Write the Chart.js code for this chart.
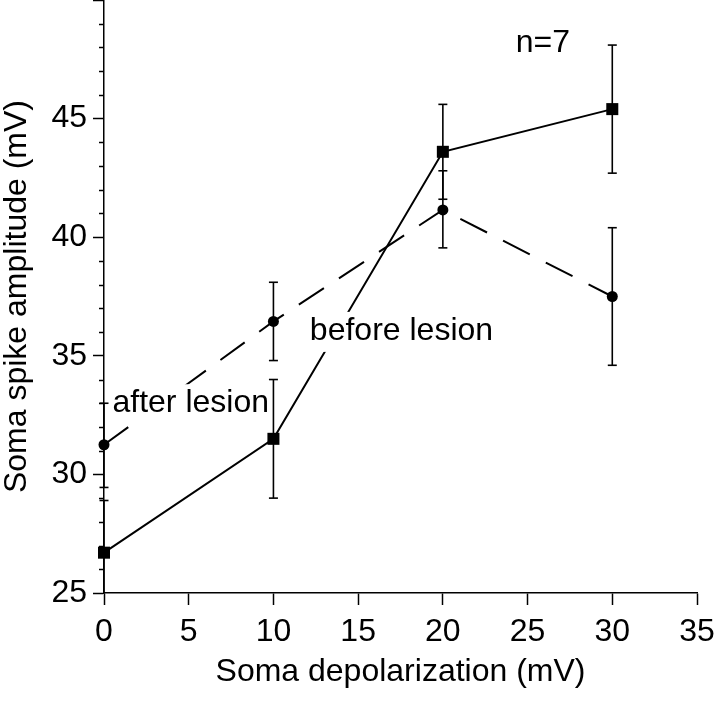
<!DOCTYPE html>
<html>
<head>
<meta charset="utf-8">
<script src="https://cdn.jsdelivr.net/npm/chart.js@4.4.1/dist/chart.umd.min.js"></script>
<style>
  html, body { margin: 0; padding: 0; background: #fff; }
  canvas { display: block; }
</style>
</head>
<body>
<canvas id="ampChart" width="720" height="702"></canvas>
<script>
// Soma spike amplitude vs depolarization, before / after lesion (n=7)
const depolarization = [0, 10, 20, 30];
const beforeLesion = [26.7, 31.5, 43.6, 45.4];
const beforeUpper  = [28.9, 34.0, 45.6, 48.1];
const beforeLower  = [24.5, 29.0, 41.6, 42.7];
const afterLesion  = [31.25, 36.45, 41.15, 37.5];
const afterUpper   = [33.0, 38.1, 42.8, 40.4];
const afterLower   = [29.45, 34.8, 39.55, 34.6];

const xTickValues = [0, 5, 10, 15, 20, 25, 30, 35];
const yTickLabels = [25, 30, 35, 40, 45];

const FONT = '"Liberation Sans", Arial, Helvetica, sans-serif';
const FONT_SIZE = 32;
Chart.defaults.font.family = FONT;
Chart.defaults.color = '#000';

// one small line dataset per error bar, caps drawn as 'line' points
function errorBars(lower, upper) {
    return depolarization.map((x, i) => ({
        type: 'line',
        data: [{ x: x, y: lower[i] }, { x: x, y: upper[i] }],
        borderColor: '#000',
        borderWidth: 1.6,
        pointStyle: 'line',
        pointRadius: 4.5,
        pointBorderWidth: 1.6,
        pointBorderColor: '#000',
        clip: { left: 10, right: 10, top: 10, bottom: 0 }
    }));
}

// text notes inside the plot, placed in data units
const notes = [
    { text: 'n=7', x: 24.3, y: 48.2, box: false },
    { text: 'before lesion', x: 12.15, y: 36.05, box: true },
    { text: 'after lesion', x: 0.5, y: 33.0, box: true }
];

const notesPlugin = {
    id: 'notes',
    afterDatasetsDraw(chart) {
        const { ctx, scales: { x, y } } = chart;
        ctx.save();
        ctx.font = FONT_SIZE + 'px ' + FONT;
        ctx.textAlign = 'left';
        ctx.textBaseline = 'middle';
        notes.forEach(n => {
            const px = x.getPixelForValue(n.x);
            const py = y.getPixelForValue(n.y);
            if (n.box) {
                const w = ctx.measureText(n.text).width;
                ctx.fillStyle = '#fff';
                ctx.fillRect(px - 2, py - 19, w + 4, 40);
            }
            ctx.fillStyle = '#000';
            ctx.fillText(n.text, px, py);
        });
        ctx.restore();
    }
};

// short minor ticks on the y axis (every 1 mV)
const minorTicksPlugin = {
    id: 'minorTicks',
    afterDraw(chart) {
        const { ctx, scales: { y } } = chart;
        ctx.save();
        ctx.strokeStyle = '#000';
        ctx.lineWidth = 1.5;
        y.ticks.forEach(t => {
            if (t.value % 5 === 0) return;
            const py = Math.round(y.getPixelForValue(t.value)) + 0.5;
            ctx.beginPath();
            ctx.moveTo(y.right - 5, py);
            ctx.lineTo(y.right, py);
            ctx.stroke();
        });
        ctx.restore();
    }
};

new Chart(document.getElementById('ampChart'), {
    type: 'scatter',
    data: {
        datasets: [
            {
                label: 'before lesion',
                type: 'line',
                data: depolarization.map((x, i) => ({ x: x, y: beforeLesion[i] })),
                borderColor: '#000',
                borderWidth: 2,
                pointStyle: 'rect',
                pointRadius: 8.5,
                pointBackgroundColor: '#000',
                pointBorderWidth: 0,
                clip: false
            },
            {
                label: 'after lesion',
                type: 'line',
                data: depolarization.map((x, i) => ({ x: x, y: afterLesion[i] })),
                borderColor: '#000',
                borderWidth: 2,
                borderDash: [30, 18],
                pointStyle: 'circle',
                pointRadius: 5.5,
                pointBackgroundColor: '#000',
                pointBorderWidth: 0,
                clip: false
            },
            ...errorBars(beforeLower, beforeUpper),
            ...errorBars(afterLower, afterUpper)
        ]
    },
    options: {
        responsive: false,
        animation: false,
        layout: { autoPadding: false, padding: { left: 0, right: 23, top: 0, bottom: 0 } },
        plugins: { legend: { display: false }, tooltip: { enabled: false } },
        scales: {
            x: {
                type: 'linear',
                min: 0,
                max: 35,
                afterBuildTicks: s => { s.ticks = xTickValues.map(v => ({ value: v })); },
                afterFit: s => {
                    s.height = 109;
                    s.paddingLeft = 0;
                    s.paddingRight = 0;
                },
                ticks: { font: { size: FONT_SIZE }, color: '#000', padding: 8, maxRotation: 0 },
                grid: { drawOnChartArea: false, tickLength: 12, tickColor: '#000', tickWidth: 1.5 },
                border: { color: '#000', width: 1.5 },
                title: {
                    display: true,
                    text: 'Soma depolarization (mV)',
                    font: { size: FONT_SIZE },
                    color: '#000',
                    padding: { top: 0, bottom: 11 }
                }
            },
            y: {
                type: 'linear',
                min: 25,
                max: 50,
                afterBuildTicks: s => {
                    const t = [];
                    for (let v = 25; v <= 50; v++) t.push({ value: v });
                    s.ticks = t;
                },
                afterFit: s => {
                    s.width = 104;
                    s.paddingTop = 0;
                    s.paddingBottom = 0;
                },
                ticks: {
                    autoSkip: false,
                    font: { size: FONT_SIZE },
                    color: '#000',
                    padding: 6,
                    callback: v => yTickLabels.includes(v) ? String(v) : ''
                },
                grid: {
                    drawOnChartArea: false,
                    tickLength: 11,
                    tickWidth: 1.5,
                    tickColor: c => (c.tick && c.tick.value % 5 === 0) ? '#000' : 'rgba(0,0,0,0)'
                },
                border: { color: '#000', width: 1.5 },
                title: {
                    display: true,
                    text: 'Soma spike amplitude (mV)',
                    font: { size: FONT_SIZE, lineHeight: 1.1 },
                    color: '#000',
                    padding: { top: 0, bottom: 0 }
                }
            }
        }
    },
    plugins: [notesPlugin, minorTicksPlugin]
});
</script>
</body>
</html>
